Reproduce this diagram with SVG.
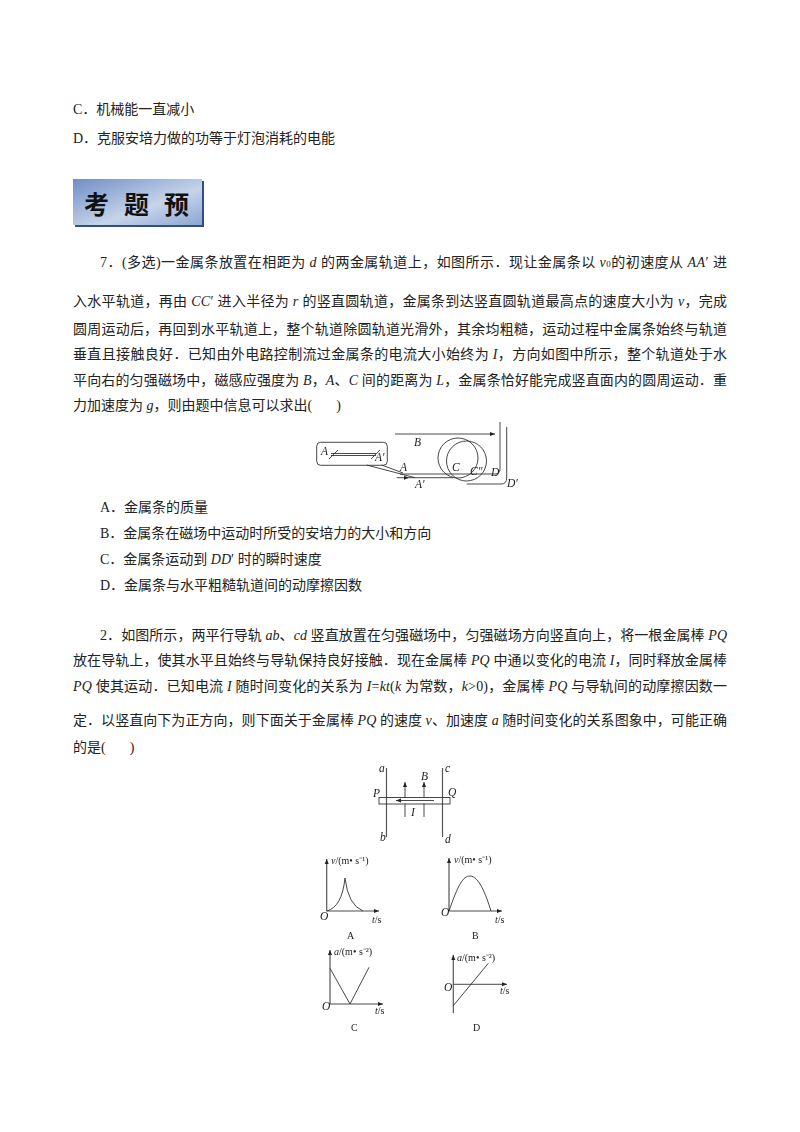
<svg xmlns="http://www.w3.org/2000/svg" width="800" height="1132" viewBox="0 0 800 1132">
<style>
text{font-family:"Liberation Serif","Noto Sans CJK SC",serif;fill:#222}
.t{font-size:14px}
.i{font-style:italic}
.s{font-size:9px}
.f{font-size:11.500px;font-style:italic;fill:#222}
.g{font-size:10px;fill:#222}
.l{fill:none;stroke:#333;stroke-width:.9}
.h{fill:none;stroke:#555;stroke-width:1.2}
.ti{font-family:"Noto Sans CJK SC",sans-serif;font-size:25px;font-weight:700;fill:#111}
</style>
<defs>
<marker id="a" markerWidth="6" markerHeight="6" refX="5" refY="2.500" orient="auto" markerUnits="userSpaceOnUse"><path d="M0 0.500L5 2.500L0 4.500z" fill="#222"/></marker>
<linearGradient id="b" x1="0" y1="0" x2="1" y2="1"><stop offset="0" stop-color="#6f8fc6"/><stop offset=".6" stop-color="#c6d4ea"/><stop offset="1" stop-color="#8ba5d2"/></linearGradient>
<filter id="soft" x="-5%" y="-5%" width="110%" height="110%"><feGaussianBlur stdDeviation=".35"/></filter>
</defs>
<rect width="800" height="1132" fill="#fff"/>

<g id="text-top">
<text class="t" x="73" y="114">C．机械能一直减小</text>
<text class="t" x="73" y="143">D．克服安培力做的功等于灯泡消耗的电能</text>
</g>

<g id="banner">
<rect x="75" y="181" width="129" height="46" fill="#2f4f86"/>
<rect x="73" y="179" width="129" height="46" fill="url(#b)"/>
<text class="ti" x="84" y="214">考</text>
<text class="ti" x="124" y="214">题</text>
<text class="ti" x="164" y="214">预</text>
</g>

<g id="question-7">
<text class="t" x="100" y="267" textLength="627" lengthAdjust="spacing">7．(多选)一金属条放置在相距为 <tspan class="i">d</tspan> 的两金属轨道上，如图所示．现让金属条以 <tspan class="i">v</tspan><tspan class="s">0</tspan>的初速度从 <tspan class="i">AA</tspan>′ 进</text>
<text class="t" x="73" y="306" textLength="654" lengthAdjust="spacing">入水平轨道，再由 <tspan class="i">CC</tspan>′ 进入半径为 <tspan class="i">r</tspan> 的竖直圆轨道，金属条到达竖直圆轨道最高点的速度大小为 <tspan class="i">v</tspan>，完成</text>
<text class="t" x="73" y="334" textLength="654" lengthAdjust="spacing">圆周运动后，再回到水平轨道上，整个轨道除圆轨道光滑外，其余均粗糙，运动过程中金属条始终与轨道</text>
<text class="t" x="73" y="359" textLength="654" lengthAdjust="spacing">垂直且接触良好．已知由外电路控制流过金属条的电流大小始终为 <tspan class="i">I</tspan>，方向如图中所示，整个轨道处于水</text>
<text class="t" x="73" y="385" textLength="654" lengthAdjust="spacing">平向右的匀强磁场中，磁感应强度为 <tspan class="i">B</tspan>，<tspan class="i">A</tspan>、<tspan class="i">C</tspan> 间的距离为 <tspan class="i">L</tspan>，金属条恰好能完成竖直面内的圆周运动．重</text>
<text class="t" x="73" y="410">力加速度为 <tspan class="i">g</tspan>，则由题中信息可以求出(<tspan dx="24">)</tspan></text>
</g>

<g id="figure-track" filter="url(#soft)">
<rect class="l" x="316.700" y="442.300" width="70.600" height="23" rx="4"/>
<path class="l" d="M331 453.500H376M331 455.500H376M329 459L338 450M371 459L380 450"/>
<path class="l" d="M366.700 465L415 477.700M381.700 465L403 473"/>
<path class="l" d="M395 434H495" marker-end="url(#a)"/>
<path class="l" d="M396.700 477.700H409" marker-end="url(#a)"/>
<path class="l" d="M409 477.700H453M400 474H495Q500 474 500 469V422M466.700 484H501Q506.700 484 506.700 478V427"/>
<circle class="l" cx="458" cy="458" r="20"/>
<circle class="l" cx="466.500" cy="461" r="20"/>
<text class="f" x="321" y="455">A</text>
<text class="f" x="375" y="461">A′</text>
<text class="f" x="414" y="446">B</text>
<text class="f" x="400" y="471">A</text>
<text class="f" x="415" y="488">A′</text>
<text class="f" x="452" y="471">C</text>
<text class="f" x="470" y="475">C″</text>
<text class="f" x="491" y="476">D</text>
<text class="f" x="507" y="487">D′</text>
</g>

<g id="options-7">
<text class="t" x="100" y="512">A．金属条的质量</text>
<text class="t" x="100" y="538">B．金属条在磁场中运动时所受的安培力的大小和方向</text>
<text class="t" x="100" y="564">C．金属条运动到 <tspan class="i">DD</tspan>′ 时的瞬时速度</text>
<text class="t" x="100" y="590">D．金属条与水平粗糙轨道间的动摩擦因数</text>
</g>

<g id="question-2">
<text class="t" x="100" y="640" textLength="627" lengthAdjust="spacing">2．如图所示，两平行导轨 <tspan class="i">ab</tspan>、<tspan class="i">cd</tspan> 竖直放置在匀强磁场中，匀强磁场方向竖直向上，将一根金属棒 <tspan class="i">PQ</tspan></text>
<text class="t" x="73" y="665" textLength="654" lengthAdjust="spacing">放在导轨上，使其水平且始终与导轨保持良好接触．现在金属棒 <tspan class="i">PQ</tspan> 中通以变化的电流 <tspan class="i">I</tspan>，同时释放金属棒</text>
<text class="t" x="73" y="691" textLength="654" lengthAdjust="spacing"><tspan class="i">PQ</tspan> 使其运动．已知电流 <tspan class="i">I</tspan> 随时间变化的关系为 <tspan class="i">I</tspan>=<tspan class="i">kt</tspan>(<tspan class="i">k</tspan> 为常数，<tspan class="i">k</tspan>&gt;0)，金属棒 <tspan class="i">PQ</tspan> 与导轨间的动摩擦因数一</text>
<text class="t" x="73" y="725" textLength="654" lengthAdjust="spacing">定．以竖直向下为正方向，则下面关于金属棒 <tspan class="i">PQ</tspan> 的速度 <tspan class="i">v</tspan>、加速度 <tspan class="i">a</tspan> 随时间变化的关系图象中，可能正确</text>
<text class="t" x="73" y="752">的是(<tspan dx="24">)</tspan></text>
</g>

<g id="figure-rod" filter="url(#soft)">
<path class="h" d="M386.500 768V837M442.500 768V837"/>
<rect class="l" x="379" y="797.500" width="71" height="6.500"/>
<path class="l" d="M405 803.500V817M424 803.500V817"/>
<path class="l" d="M405 797V782" marker-end="url(#a)"/>
<path class="l" d="M424 797V782" marker-end="url(#a)"/>
<path class="l" d="M434 800.500H396" marker-end="url(#a)"/>
<text class="f" x="379" y="772">a</text>
<text class="f" x="445" y="772">c</text>
<text class="f" x="421" y="780">B</text>
<text class="f" x="373" y="797">P</text>
<text class="f" x="448" y="796">Q</text>
<text class="f" x="411" y="816">I</text>
<text class="f" x="380" y="841">b</text>
<text class="f" x="445" y="843">d</text>
</g>

<g id="graph-a" filter="url(#soft)">
<path class="h" d="M326.700 911V859" marker-end="url(#a)"/>
<path class="l" d="M326.700 911H379" marker-end="url(#a)"/>
<path class="l" d="M326.700 911Q342 907 345 878Q348 905 363 911"/>
<text class="f" x="320" y="920">O</text>
<text class="g" x="331" y="864"><tspan class="i">v</tspan>/(m• s⁻¹)</text>
<text class="g" x="372" y="923"><tspan class="i">t</tspan>/s</text>
<text class="g" x="347" y="939">A</text>
</g>

<g id="graph-b" filter="url(#soft)">
<path class="h" d="M449 911V858" marker-end="url(#a)"/>
<path class="l" d="M449 911H502" marker-end="url(#a)"/>
<path class="l" d="M449 911C458 885 463 876 470 876C479 876 486 895 491 911"/>
<text class="f" x="441" y="916">O</text>
<text class="g" x="454" y="863"><tspan class="i">v</tspan>/(m• s⁻¹)</text>
<text class="g" x="495" y="923"><tspan class="i">t</tspan>/s</text>
<text class="g" x="472" y="939">B</text>
</g>

<g id="graph-c" filter="url(#soft)">
<path class="h" d="M330 1004V950" marker-end="url(#a)"/>
<path class="l" d="M330 1004H383" marker-end="url(#a)"/>
<path class="l" d="M330 968.300L350 1004L369 967.300"/>
<text class="f" x="322" y="1010">O</text>
<text class="g" x="334" y="955"><tspan class="i">a</tspan>/(m• s⁻²)</text>
<text class="g" x="375" y="1014"><tspan class="i">t</tspan>/s</text>
<text class="g" x="351" y="1031">C</text>
</g>

<g id="graph-d" filter="url(#soft)">
<path class="h" d="M453.300 1013V955" marker-end="url(#a)"/>
<path class="l" d="M453.300 984.300H507" marker-end="url(#a)"/>
<path class="l" d="M453.300 1005.700L488.300 963.300"/>
<text class="f" x="444" y="991">O</text>
<text class="g" x="457" y="961"><tspan class="i">a</tspan>/(m• s⁻²)</text>
<text class="g" x="500" y="994"><tspan class="i">t</tspan>/s</text>
<text class="g" x="473" y="1031">D</text>
</g>
</svg>
